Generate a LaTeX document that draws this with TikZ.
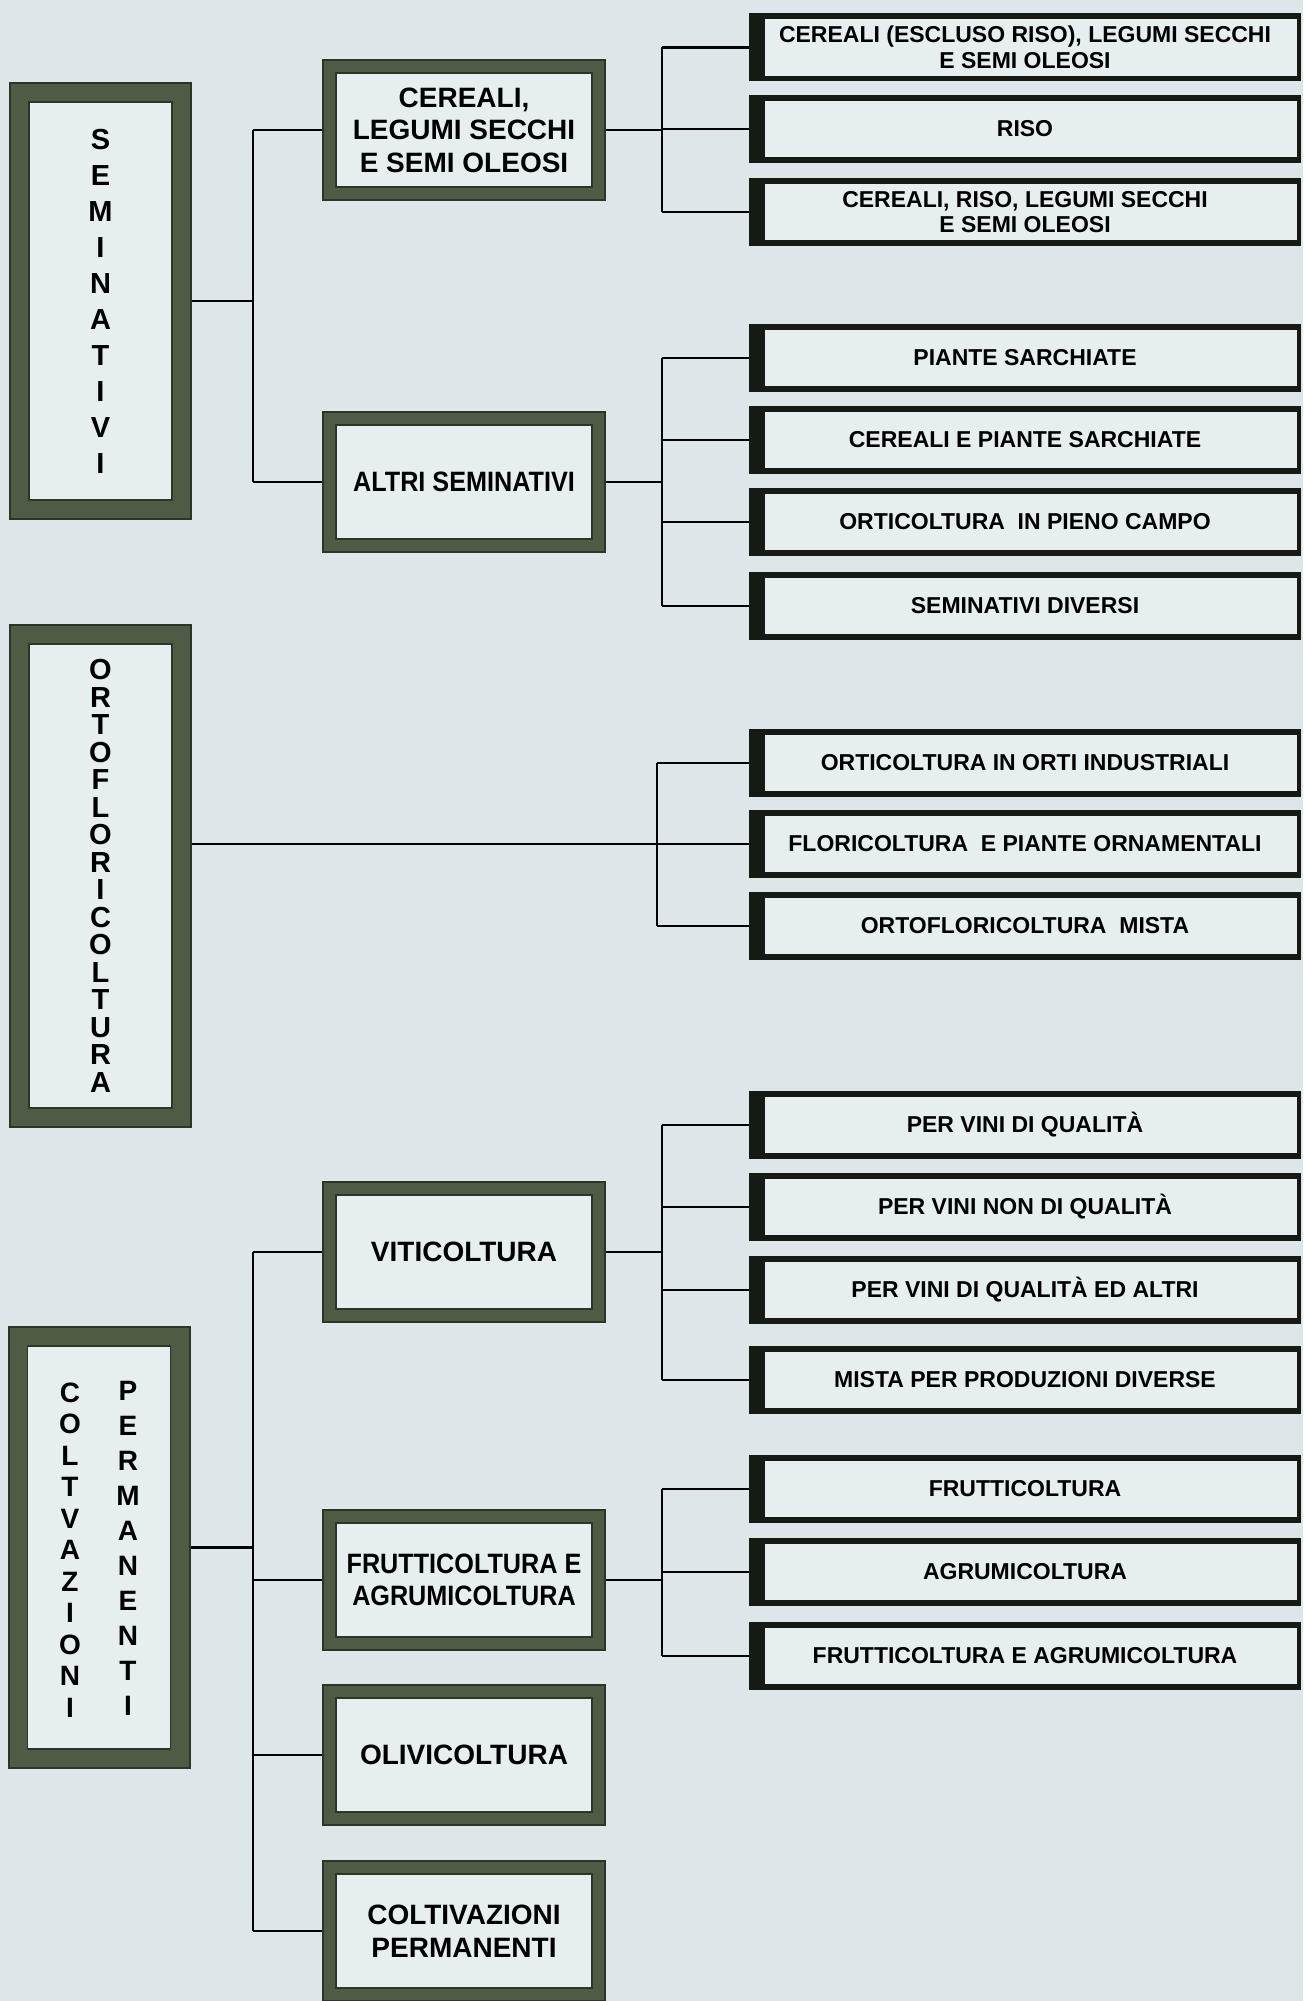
\documentclass[tikz,border=0pt]{standalone}
\usepackage{fontspec}
\setmainfont{Liberation Sans}
\newfontfamily\condfont[FakeStretch=0.9]{Liberation Sans}
\definecolor{bgc}{HTML}{DDE7E9}
\definecolor{innerc}{HTML}{E6EEF0}
\definecolor{olive}{HTML}{4E5C45}
\definecolor{olivedk}{HTML}{2C3626}
\definecolor{frameblk}{HTML}{151A14}
\tikzset{
  framed/.style={fill=olive, draw=olivedk, line width=1pt, inner sep=0pt, align=center,
    path picture={\fill[innerc, draw=olivedk, line width=0.8pt]
      ([xshift=#1,yshift=#1]path picture bounding box.south west) rectangle
      ([xshift=-#1,yshift=-#1]path picture bounding box.north east);}},
  midbox/.style={framed=6.5pt, minimum width=141pt, minimum height=70pt,
    font=\bfseries\fontsize{14}{16.3}\selectfont},
  leftbox/.style={framed=9.5pt, minimum width=90.5pt},
  rbox/.style={fill=frameblk, inner sep=0pt, minimum width=276pt, minimum height=34pt,
    align=center, font=\bfseries\fontsize{11.5}{12.8}\selectfont,
    path picture={\fill[innerc]
      ([xshift=8pt,yshift=2.8pt]path picture bounding box.south west) rectangle
      ([xshift=-2pt,yshift=-2.8pt]path picture bounding box.north east);}},
  letters/.style={inner sep=0pt, align=center},
  conn/.style={draw=black, line width=1.2pt},
}
\begin{document}
\begin{tikzpicture}[x=0.5pt,y=-0.5pt]
\fill[bgc] (0,0) rectangle (1303,2001);
\useasboundingbox (0,0) rectangle (1303,2001);

% left boxes
\node[leftbox, minimum height=218pt, font=\bfseries\fontsize{14.5}{18}\selectfont] (sem) at (100.5,301)
  {S\\E\\M\\I\\N\\A\\T\\I\\V\\I};
\node[leftbox, minimum height=251pt, font=\bfseries\fontsize{14.5}{13.75}\selectfont] (orto) at (100.5,876)
  {O\\R\\T\\O\\F\\L\\O\\R\\I\\C\\O\\L\\T\\U\\R\\A};
\node[leftbox, minimum height=220.5pt] (colt) at (99,1547.5) {};
\node[letters, font=\bfseries\fontsize{14}{15.75}\selectfont] (coltA) at (70,1550)
  {C\\O\\L\\T\\V\\A\\Z\\I\\O\\N\\I};
\node[letters, font=\bfseries\fontsize{14}{17.5}\selectfont] (coltB) at (128,1548)
  {P\\E\\R\\M\\A\\N\\E\\N\\T\\I};

% middle boxes
\node[midbox] (cer) at (464,130) {CEREALI,\\LEGUMI SECCHI\\E SEMI OLEOSI};
\node[midbox] (alt) at (464,482) {\condfont\bfseries ALTRI SEMINATIVI};
\node[midbox] (viti) at (464,1252) {VITICOLTURA};
\node[midbox] (frut) at (464,1580) {\condfont\bfseries FRUTTICOLTURA E\\\condfont\bfseries AGRUMICOLTURA};
\node[midbox] (oliv) at (464,1755) {OLIVICOLTURA};
\node[midbox] (cperm) at (464,1931) {COLTIVAZIONI\\PERMANENTI};

% right boxes
\node[rbox] (r1) at (1025,47.5) {CEREALI (ESCLUSO RISO), LEGUMI SECCHI\\E SEMI OLEOSI};
\node[rbox] (r2) at (1025,129) {RISO};
\node[rbox] (r3) at (1025,212) {CEREALI, RISO, LEGUMI SECCHI\\E SEMI OLEOSI};
\node[rbox] (r4) at (1025,358) {PIANTE SARCHIATE};
\node[rbox] (r5) at (1025,440) {CEREALI E PIANTE SARCHIATE};
\node[rbox] (r6) at (1025,522) {ORTICOLTURA\ \ IN PIENO CAMPO};
\node[rbox] (r7) at (1025,606) {SEMINATIVI DIVERSI};
\node[rbox] (r8) at (1025,763) {ORTICOLTURA IN ORTI INDUSTRIALI};
\node[rbox] (r9) at (1025,844) {FLORICOLTURA\ \ E PIANTE ORNAMENTALI};
\node[rbox] (r10) at (1025,926) {ORTOFLORICOLTURA\ \ MISTA};
\node[rbox] (r11) at (1025,1125) {PER VINI DI QUALITÀ};
\node[rbox] (r12) at (1025,1207) {PER VINI NON DI QUALITÀ};
\node[rbox] (r13) at (1025,1290) {PER VINI DI QUALITÀ ED ALTRI};
\node[rbox] (r14) at (1025,1380) {MISTA PER PRODUZIONI DIVERSE};
\node[rbox] (r15) at (1025,1489) {FRUTTICOLTURA};
\node[rbox] (r16) at (1025,1572) {AGRUMICOLTURA};
\node[rbox] (r17) at (1025,1656) {FRUTTICOLTURA E AGRUMICOLTURA};

% bus coordinates
\coordinate (bL) at (253,0);
\coordinate (bR) at (662,0);
\coordinate (bO) at (657,0);

% SEMINATIVI
\draw[conn] (sem.east) -- (bL |- sem.east);
\draw[conn] (bL |- cer.west) -- (bL |- alt.west);
\draw[conn] (bL |- cer.west) -- (cer.west);
\draw[conn] (bL |- alt.west) -- (alt.west);
% CEREALI group
\draw[conn] (cer.east) -- (bR |- cer.east);
\draw[conn] (bR |- r1.west) -- (bR |- r3.west);
\foreach \n in {r1,r2,r3} \draw[conn] (bR |- \n.west) -- (\n.west);
% ALTRI group
\draw[conn] (alt.east) -- (bR |- alt.east);
\draw[conn] (bR |- r4.west) -- (bR |- r7.west);
\foreach \n in {r4,r5,r6,r7} \draw[conn] (bR |- \n.west) -- (\n.west);
% ORTOFLORICOLTURA
\draw[conn] (orto.east |- r9.west) -- (bO |- r9.west);
\draw[conn] (bO |- r8.west) -- (bO |- r10.west);
\foreach \n in {r8,r9,r10} \draw[conn] (bO |- \n.west) -- (\n.west);
% COLTIVAZIONI PERMANENTI
\draw[conn] (colt.east) -- (bL |- colt.east);
\draw[conn] (bL |- viti.west) -- (bL |- cperm.west);
\foreach \n in {viti,frut,oliv,cperm} \draw[conn] (bL |- \n.west) -- (\n.west);
% VITICOLTURA group
\draw[conn] (viti.east) -- (bR |- viti.east);
\draw[conn] (bR |- r11.west) -- (bR |- r14.west);
\foreach \n in {r11,r12,r13,r14} \draw[conn] (bR |- \n.west) -- (\n.west);
% FRUTTICOLTURA group
\draw[conn] (frut.east) -- (bR |- frut.east);
\draw[conn] (bR |- r15.west) -- (bR |- r17.west);
\foreach \n in {r15,r16,r17} \draw[conn] (bR |- \n.west) -- (\n.west);
\end{tikzpicture}
\end{document}
